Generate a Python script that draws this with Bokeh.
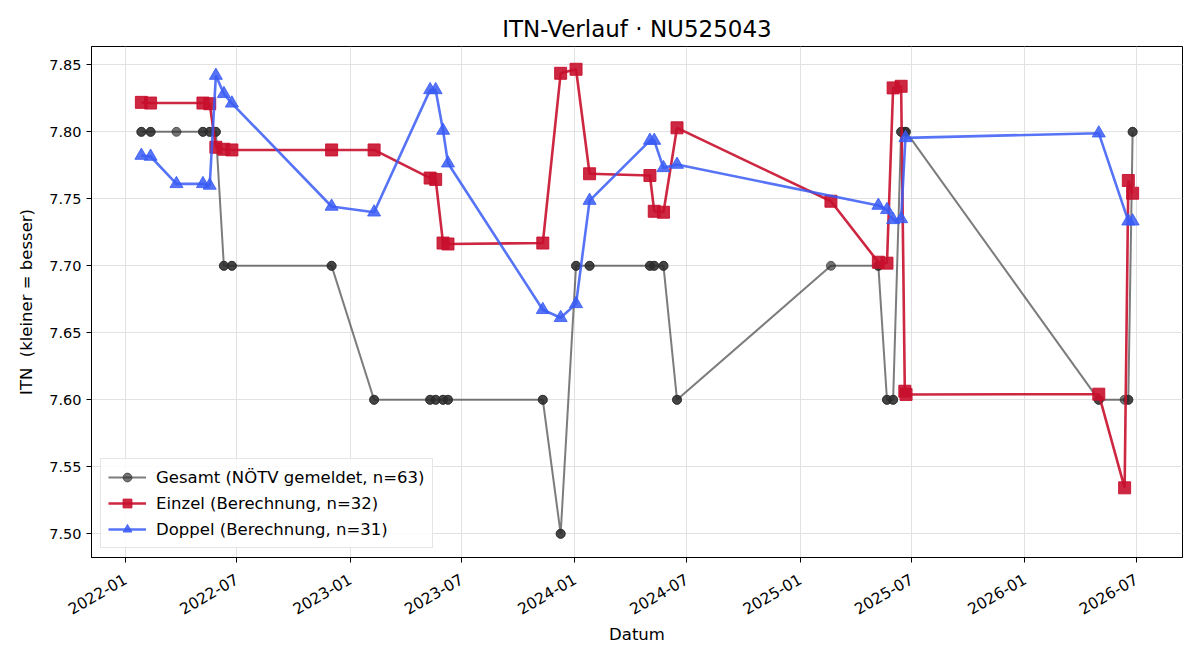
import math
from datetime import datetime
from bokeh.plotting import figure
from bokeh.models import (Range1d, MonthsTicker, DatetimeTickFormatter, SingleIntervalTicker,
                          NumeralTickFormatter, Legend, LegendItem)
from bokeh.embed import file_html
from bokeh.resources import INLINE

# ---------------- data ----------------
gesamt_dates = ["2022-01-27", "2022-02-11", "2022-03-25", "2022-05-07", "2022-05-18", "2022-05-28",
                "2022-06-10", "2022-06-23", "2022-12-02", "2023-02-09", "2023-05-11", "2023-05-20",
                "2023-06-01", "2023-06-09", "2023-11-10", "2023-12-09", "2024-01-03", "2024-01-25",
                "2024-05-02", "2024-05-09", "2024-05-24", "2024-06-15", "2025-02-20", "2025-05-08",
                "2025-05-22", "2025-06-01", "2025-06-14", "2025-06-20", "2025-06-21", "2025-06-22",
                "2026-05-01", "2026-06-12", "2026-06-18", "2026-06-25"]
gesamt_values = [7.80, 7.80, 7.80, 7.80, 7.80, 7.80,
                 7.70, 7.70, 7.70, 7.60, 7.60, 7.60,
                 7.60, 7.60, 7.60, 7.50, 7.70, 7.70,
                 7.70, 7.70, 7.70, 7.60, 7.70, 7.70,
                 7.60, 7.60, 7.80, 7.80, 7.80, 7.80,
                 7.60, 7.60, 7.60, 7.80]
gesamt_counts = [2, 2, 1, 2, 2, 2,
                 2, 2, 2, 2, 2, 2,
                 2, 2, 2, 2, 2, 2,
                 2, 2, 2, 2, 1, 2,
                 2, 2, 2, 1, 1, 1,
                 2, 1, 2, 2]

einzel_dates = ["2022-01-27", "2022-02-11", "2022-05-07", "2022-05-18", "2022-05-28", "2022-06-10",
                "2022-06-23", "2022-12-02", "2023-02-09", "2023-05-11", "2023-05-20", "2023-06-01",
                "2023-06-09", "2023-11-10", "2023-12-09", "2024-01-03", "2024-01-25", "2024-05-02",
                "2024-05-09", "2024-05-24", "2024-06-15", "2025-02-20", "2025-05-08", "2025-05-22",
                "2025-06-01", "2025-06-14", "2025-06-20", "2025-06-22", "2026-05-01", "2026-06-12",
                "2026-06-18", "2026-06-25"]
einzel_values = [7.822, 7.8215, 7.8215, 7.821, 7.7885, 7.787,
                 7.7865, 7.7865, 7.7865, 7.7655, 7.7645, 7.717,
                 7.7163, 7.717, 7.8437, 7.8467, 7.7687, 7.7674,
                 7.7407, 7.740, 7.803, 7.7482, 7.7027, 7.702,
                 7.8328, 7.834, 7.6064, 7.604, 7.6042, 7.5343,
                 7.7637, 7.7542]

doppel_dates = ["2022-01-27", "2022-02-11", "2022-03-25", "2022-05-07", "2022-05-18", "2022-05-28",
                "2022-06-10", "2022-06-23", "2022-12-02", "2023-02-09", "2023-05-11", "2023-05-20",
                "2023-06-01", "2023-06-09", "2023-11-10", "2023-12-09", "2024-01-03", "2024-01-25",
                "2024-05-02", "2024-05-09", "2024-05-24", "2024-06-15", "2025-05-08", "2025-05-22",
                "2025-06-01", "2025-06-14", "2025-06-21", "2026-05-01", "2026-06-18", "2026-06-25"]
doppel_values = [7.7823, 7.7816, 7.7612, 7.7612, 7.760, 7.842,
                 7.8284, 7.8213, 7.7443, 7.740, 7.8313, 7.8313,
                 7.801, 7.7766, 7.6672, 7.6612, 7.6716, 7.7487,
                 7.7935, 7.7935, 7.7731, 7.7756, 7.745, 7.7418,
                 7.7343, 7.735, 7.7955, 7.799, 7.7333, 7.7333]

title_text = "ITN-Verlauf · NU525043"
x_label = "Datum"
y_label = "ITN\u00a0 (kleiner = besser)"
label_gesamt = "Gesamt (NÖTV gemeldet, n=63)"
label_einzel = "Einzel (Berechnung, n=32)"
label_doppel = "Doppel (Berechnung, n=31)"

# ---------------- build ----------------
def to_dt(lst):
    return [datetime.strptime(s, "%Y-%m-%d") for s in lst]

g_x, g_y = [], []
for d, v, c in zip(to_dt(gesamt_dates), gesamt_values, gesamt_counts):
    g_x += [d] * c
    g_y += [v] * c

e_x = to_dt(einzel_dates)
d_x = to_dt(doppel_dates)

FONT = "DejaVu Sans"

p = figure(width=1200, height=660, x_axis_type="datetime", output_backend="svg",
           toolbar_location=None,
           x_range=Range1d(datetime(2021, 11, 7), datetime(2026, 9, 14)),
           y_range=Range1d(7.4823, 7.8637),
           min_border_left=91, min_border_right=18, min_border_top=46, min_border_bottom=103)

p.title.text = title_text
p.title.align = "center"
p.title.text_font = FONT
p.title.text_font_size = "23px"
p.title.text_font_style = "normal"
p.title.text_color = "black"

GRAY = "#2b2b2b"
RED = "#C8102E"
BLUE = "#3A5CF4"

rg_l = p.line(g_x, g_y, line_color=GRAY, line_width=2, line_alpha=0.62)
rg_s = p.scatter(g_x, g_y, marker="circle", size=9, fill_color=GRAY, line_color=GRAY,
                 fill_alpha=0.65, line_alpha=0.65)

re_l = p.line(e_x, einzel_values, line_color=RED, line_width=2.6, line_alpha=0.9)
re_s = p.scatter(e_x, einzel_values, marker="square", size=12, fill_color=RED, line_color=RED,
                 fill_alpha=0.9, line_alpha=0.9)

rd_l = p.line(d_x, doppel_values, line_color=BLUE, line_width=2.6, line_alpha=0.85)
rd_s = p.scatter(d_x, doppel_values, marker="triangle", size=13, fill_color=BLUE, line_color=BLUE,
                 fill_alpha=0.85, line_alpha=0.85)

legend = Legend(items=[
    LegendItem(label=label_gesamt, renderers=[rg_l, rg_s]),
    LegendItem(label=label_einzel, renderers=[re_l, re_s]),
    LegendItem(label=label_doppel, renderers=[rd_l, rd_s]),
], location="bottom_left")
legend.label_text_font = FONT
legend.label_text_font_size = "16.5px"
legend.label_text_color = "black"
legend.border_line_color = "#cccccc"
legend.border_line_width = 1
legend.background_fill_alpha = 0.85
legend.margin = 9
legend.padding = 7
legend.spacing = 4
legend.label_height = 22
legend.glyph_height = 22
legend.glyph_width = 38
legend.label_standoff = 10
p.add_layout(legend)

# axes (Bokeh MonthsTicker months are 0-based: 0 = January, 6 = July)
p.xaxis.ticker = MonthsTicker(months=[0, 6])
fmt = "%Y-%m"
p.xaxis.formatter = DatetimeTickFormatter(years=fmt, months=fmt, days=fmt, hours=fmt,
                                          minutes=fmt, seconds=fmt, milliseconds=fmt)
p.xaxis.major_label_orientation = math.pi / 6
p.yaxis.ticker = SingleIntervalTicker(interval=0.05, num_minor_ticks=0)
p.yaxis.formatter = NumeralTickFormatter(format="0.00")

for ax in (p.xaxis, p.yaxis):
    ax.axis_line_color = "black"
    ax.axis_line_width = 1
    ax.major_tick_line_color = "black"
    ax.major_tick_out = 5
    ax.major_tick_in = 0
    ax.minor_tick_line_color = None
    ax.major_label_text_font = FONT
    ax.major_label_text_color = "black"
    ax.axis_label_text_font = FONT
    ax.axis_label_text_font_size = "16.5px"
    ax.axis_label_text_font_style = "normal"
    ax.axis_label_text_color = "black"

p.xaxis.major_label_text_font_size = "15.5px"
p.yaxis.major_label_text_font_size = "14.5px"
p.xaxis.axis_label = x_label
p.yaxis.axis_label = y_label
p.xaxis.major_label_standoff = 15
p.yaxis.major_label_standoff = 5
p.xaxis.axis_label_standoff = 2
p.yaxis.axis_label_standoff = 10

p.grid.grid_line_color = "#e2e2e2"
p.grid.grid_line_width = 1
p.outline_line_color = "black"
p.outline_line_width = 1
p.background_fill_color = "white"
p.border_fill_color = "white"

open("out.html", "w").write(file_html(p, INLINE))
